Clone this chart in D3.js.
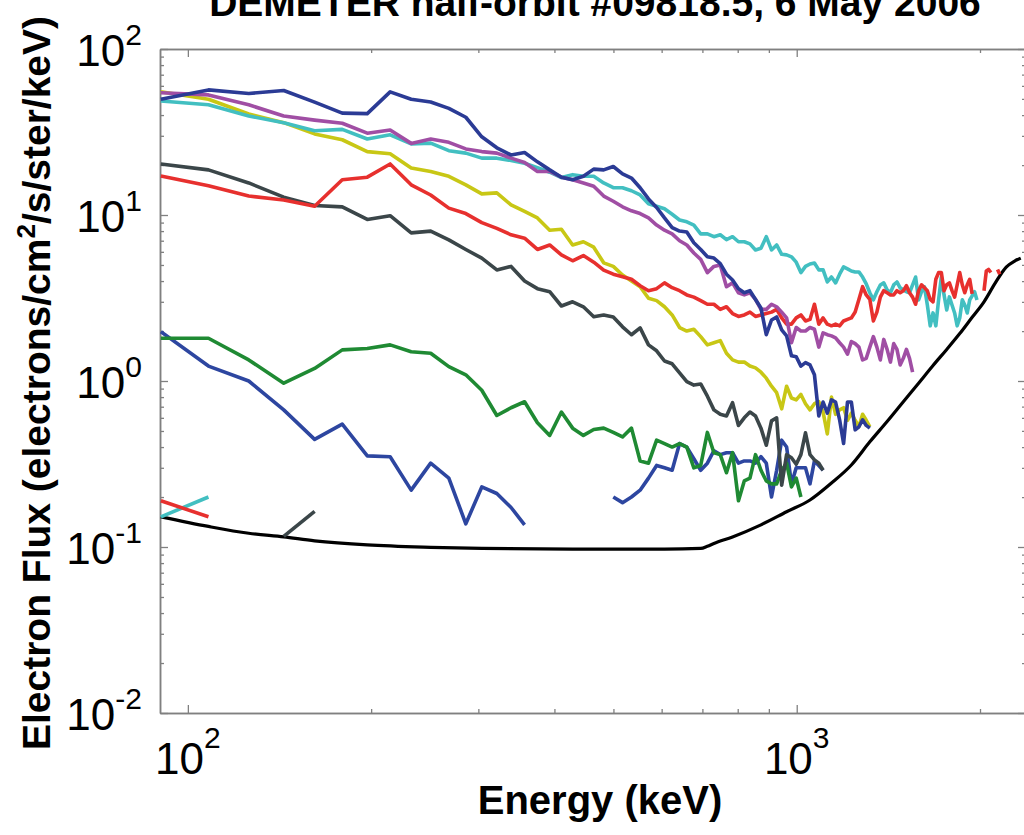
<!DOCTYPE html>
<html>
<head>
<meta charset="utf-8">
<script src="https://cdn.jsdelivr.net/npm/d3@7/dist/d3.min.js"></script>
<style>
  body { margin: 0; background: #fff; }
  svg { display: block; font-family: "Liberation Sans", Arial, Helvetica, sans-serif; }
</style>
</head>
<body>
<div id="chart"></div>
<script>
// IDP energy channels (keV), channel 1 .. 127
var energies = [90.3, 108.1, 125.9, 143.7, 161.5, 179.3, 197.1, 214.9, 232.7, 250.5,
  268.3, 286.1, 303.9, 321.7, 339.5, 357.3, 375.1, 392.9, 410.7, 428.5,
  446.3, 464.1, 481.9, 499.7, 517.5, 535.3, 553.1, 570.9, 588.7, 606.5,
  624.3, 642.1, 659.9, 677.7, 695.5, 713.3, 731.1, 748.9, 766.7, 784.5,
  802.3, 820.1, 837.9, 855.7, 873.5, 891.3, 909.1, 926.9, 944.7, 962.5,
  980.3, 998.1, 1015.9, 1033.7, 1051.5, 1069.3, 1087.1, 1104.9, 1122.7, 1140.5,
  1158.3, 1176.1, 1193.9, 1211.7, 1229.5, 1247.3, 1265.1, 1282.9, 1300.7, 1318.5,
  1336.3, 1354.1, 1371.9, 1389.7, 1407.5, 1425.3, 1443.1, 1460.9, 1478.7, 1496.5,
  1514.3, 1532.1, 1549.9, 1567.7, 1585.5, 1603.3, 1621.1, 1638.9, 1656.7, 1674.5,
  1692.3, 1710.1, 1727.9, 1745.7, 1763.5, 1781.3, 1799.1, 1816.9, 1834.7, 1852.5,
  1870.3, 1888.1, 1905.9, 1923.7, 1941.5, 1959.3, 1977.1, 1994.9, 2012.7, 2030.5,
  2048.3, 2066.1, 2083.9, 2101.7, 2119.5, 2137.3, 2155.1, 2172.9, 2190.7, 2208.5,
  2226.3, 2244.1, 2261.9, 2279.7, 2297.5, 2315.3, 2333.1];

// electron flux per channel (electrons/cm2/s/ster/keV), null = no data
var fluxBlueHigh = [49.8, 56.7, 54.0, 56.2, 47.9, 41.1, 40.8, 55.2, 49.8, 47.9,
  43.9, 38.8, 29.6, 25.4, 23.0, 23.8, 20.9, 18.7, 16.9, 16.3,
  17.1, 18.9, 18.7, 19.6, 17.7, 16.7, 14.6, 12.5, 11.1, 9.6,
  8.4, 8.0, 7.9, 6.8, 6.2, 5.6, 5.5, 5.1, 4.4, 4.06,
  3.6, 3.4, 3.5, 3.1, 2.75, 1.9, 2.33, 2.43, 2.03, 1.87,
  1.42, 1.40, 1.23, 1.29, 1.25, 1.09, 0.616, 0.747, 0.641, 0.77,
  0.747, 0.584, 0.42, 0.747, 0.747, 0.508, 0.53, 0.584, 0.54, 0.52];

var fluxCyan = [48.6, 46.1, 39.5, 36.0, 32.2, 32.8, 28.7, 30.4, 26.8, 27.1,
  24.4, 23.6, 22.0, 22.0, 21.3, 20.5, 19.3, 18.1, 16.8, 17.5,
  17.1, 17.1, 15.6, 14.6, 14.6, 14.0, 13.2, 11.7, 11.3, 10.9,
  10.1, 9.33, 9.1, 8.7, 7.7, 7.7, 7.4, 7.6, 7.1, 7.4,
  6.9, 6.9, 6.7, 6.16, 6.3, 7.4, 6.16, 6.6, 5.8, 5.75,
  5.6, 5.2, 4.5, 4.9, 5.07, 5.14, 4.67, 4.67, 3.95, 4.23,
  3.9, 4.4, 4.87, 4.74, 4.6, 4.54, 4.54, 4.23, 3.85, 3.4,
  3.08, 3.45, 3.79, 3.9, 3.54, 3.4, 3.79, 3.95, 3.64, 3.54,
  3.45, 3.4, 3.79, 4.23, 3.08, 3.45, 3.69, 2.87, 2.15, 2.57,
  2.15, 3.08, 4.23, 3.3, 2.68, 3.21, 2.87, 2.57, 2.15, 2.4,
  3.08, 2.87, 2.57, 3.08, 3.26, 3.45, 3.08];

var fluxPurple = [54.5, 52.9, 46.1, 39.5, 37.3, 35.7, 31.1, 32.5, 27.0, 28.7,
  27.4, 25.0, 24.1, 23.6, 22.0, 20.7, 18.3, 18.3, 16.9, 16.3,
  15.6, 14.9, 13.0, 12.1, 11.2, 10.6, 10.2, 9.6, 8.7, 8.1,
  7.7, 7.0, 6.6, 5.9, 5.4, 4.5, 4.9, 5.0, 3.7, 3.9,
  3.4, 3.3, 3.4, 3.1, 2.7, 2.7, 2.9, 2.8, 2.6, 2.4,
  1.7, 2.1, 2.0, 2.0, 2.1, 2.05, 1.6, 1.95, 1.9, 1.87,
  1.82, 1.7, 1.6, 1.45, 1.73, 1.68, 1.6, 1.34, 1.37, 1.6,
  1.85, 1.6, 1.34, 1.78, 1.55, 1.3, 1.68, 1.55, 1.25, 1.37,
  1.55, 1.37, 1.13];

var fluxYellow = [55.2, 49.8, 40.6, 36.0, 30.8, 28.4, 24.1, 23.4, 19.2, 18.3,
  17.1, 15.2, 13.4, 13.6, 11.5, 10.5, 9.6, 8.1, 8.2, 6.6,
  6.9, 6.4, 5.15, 4.9, 4.35, 4.0, 3.7, 3.15, 3.05, 2.8,
  2.5, 2.1, 2.0, 2.05, 1.85, 1.65, 1.7, 1.75, 1.47, 1.34,
  1.3, 1.3, 1.23, 1.2, 1.13, 1.04, 0.93, 0.85, 0.68, 0.93,
  0.79, 0.77, 0.83, 0.73, 0.67, 0.73, 0.75, 0.65, 0.48, 0.8,
  0.63, 0.67, 0.69, 0.58, 0.64, 0.58, 0.53, 0.63, 0.58, 0.53];

var fluxRed = [17.2, 15.0, 13.0, 12.3, 11.3, 16.3, 16.9, 20.3, 15.2, 13.2,
  11.0, 10.2, 9.0, 8.3, 7.6, 7.25, 6.2, 6.6, 5.75, 5.3,
  5.7, 5.2, 4.65, 4.4, 4.25, 4.1, 3.75, 3.5, 3.6, 3.9,
  3.65, 3.5, 3.3, 3.2, 3.05, 2.9, 2.9, 2.7, 2.8, 2.55,
  2.45, 2.5, 2.6, 2.45, 2.5, 2.55, 2.6, 2.7, 2.4, 2.2,
  2.2, 2.4, 2.5, 2.3, 2.35, 2.9, 2.2, 2.4, 2.2, 2.15,
  2.2, 2.15, 2.3, 2.35, 2.4, 2.6, 3.1, 3.7, 3.3, 3.1,
  2.3, 2.6, 3.2, 3.5, 3.4, 3.3, 3.3, 3.5, 3.4, 3.5,
  3.75, 3.4, 3.2, 2.9, 3.5, 3.8, 3.65, 3.5, 3.1, 3.0,
  4.1, 4.5, 4.5, 3.5, 3.8, 3.9, 3.5, 3.2, 3.8, 4.5,
  3.8, 3.4, 3.8, 4.1, 3.35, null, null, null, null, 3.5,
  4.6, 4.7, 4.5, null, null, 4.7, 4.4];

var fluxGray = [20.3, 18.7, 15.6, 12.8, 11.4, 11.2, 9.4, 9.9, 7.8, 8.0,
  7.08, 6.2, 5.5, 4.67, 4.9, 4.0, 3.6, 3.45, 2.83, 3.0,
  2.8, 2.44, 2.5, 2.43, 2.12, 1.9, 2.09, 1.65, 1.52, 1.32,
  1.27, 1.12, 0.99, 0.945, 0.96, 0.81, 0.67, 0.63, 0.616, 0.74,
  0.54, 0.6, 0.65, 0.616, 0.52, 0.41, 0.575, 0.6, 0.236, 0.36,
  0.345, 0.315, 0.36, 0.487, 0.36, 0.335, 0.32, 0.29];

var fluxGreen = [1.81, 1.81, 1.34, 0.97, 1.19, 1.54, 1.57, 1.65, 1.5, 1.47,
  1.22, 1.09, 0.88, 0.62, 0.69, 0.75, 0.56, 0.47, 0.65, 0.52,
  0.47, 0.51, 0.52, 0.49, 0.46, 0.52, 0.33, 0.32, 0.44, 0.42,
  0.4, 0.42, 0.4, 0.3, 0.31, 0.49, 0.37, 0.36, 0.28, 0.37,
  0.19, 0.25, 0.26, 0.36, 0.29, 0.25, 0.24, 0.24, 0.29, 0.32,
  0.23, 0.26, 0.2];

var fluxBlueLow = [1.98, 1.23, 1.0, 0.67, 0.445, 0.55, 0.354, 0.35, 0.22, 0.32,
  0.26, 0.138, 0.23, 0.21, 0.173, 0.136, null, null, null, null,
  null, null, null, 0.2, 0.185, 0.2, 0.22, 0.26, 0.31, 0.3,
  0.29, 0.42, 0.4, 0.34, 0.29, 0.32, 0.38, 0.36, 0.37, 0.37,
  0.32, 0.33, 0.33, 0.32, 0.35, 0.32, 0.2, 0.29, 0.44, 0.4,
  0.24, 0.3, 0.3, 0.3, 0.24, 0.33, 0.31, 0.29];

// short fragments near the lower edge
var fluxRedLow = [0.19, 0.152];
var fluxCyanLow = [0.152, 0.2];
var fluxGrayLow = [null, null, null, 0.116, 0.164];

// instrument background level
var thresholdE = [90.3, 108.1, 125.9, 143.7, 161.5, 197.1, 250.5, 303.9, 428.5, 606.5,
  695.5, 713.3, 731.1, 784.5, 873.5, 962.5, 1051.5, 1140.5, 1229.5, 1318.5,
  1407.5, 1496.5, 1585.5, 1674.5, 1763.5, 1852.5, 1941.5, 2030.5, 2119.5, 2208.5,
  2279.7, 2333.1];
var thresholdFlux = [0.152, 0.133, 0.121, 0.115, 0.109, 0.103, 0.0996, 0.098, 0.097, 0.097,
  0.098, 0.101, 0.105, 0.115, 0.136, 0.163, 0.192, 0.243, 0.312, 0.43,
  0.57, 0.75, 0.97, 1.24, 1.55, 1.93, 2.42, 3.0, 3.9, 4.86,
  5.28, 5.5];

var xMajor = [100, 1000];
var xMinor = [200, 300, 400, 500, 600, 700, 800, 900, 2000];
var yMajor = [0.01, 0.1, 1, 10, 100];
var yExp = ["-2", "-1", "0", "1", "2"];

var series = [
  {name: "blueLow", values: fluxBlueLow, color: "#2d46a0"},
  {name: "green", values: fluxGreen, color: "#1f8a33"},
  {name: "gray", values: fluxGray, color: "#3b4649"},
  {name: "grayLow", values: fluxGrayLow, color: "#3b4649"},
  {name: "yellow", values: fluxYellow, color: "#c8c715"},
  {name: "cyan", values: fluxCyan, color: "#42bfc1"},
  {name: "cyanLow", values: fluxCyanLow, color: "#42bfc1"},
  {name: "red", values: fluxRed, color: "#e7302e"},
  {name: "redLow", values: fluxRedLow, color: "#e7302e"},
  {name: "purple", values: fluxPurple, color: "#a04ea4"},
  {name: "blueHigh", values: fluxBlueHigh, color: "#2b3b95"}
];

var W = 1024, H = 835,
    plot = {left: 160, right: 1026, top: 49, bottom: 713};

var svg = d3.select("#chart").append("svg")
    .attr("width", W)
    .attr("height", H);

var x = d3.scaleLog().domain([90, 2380]).range([plot.left, plot.right]);
var y = d3.scaleLog().domain([0.01, 100]).range([plot.bottom, plot.top]);

svg.append("clipPath").attr("id", "clip")
  .append("rect")
    .attr("x", plot.left).attr("y", plot.top)
    .attr("width", plot.right - plot.left)
    .attr("height", plot.bottom - plot.top);

// minor y ticks 2..9 in every decade
var yMinor = [];
yMajor.slice(0, -1).forEach(function(d) {
  for (var m = 2; m <= 9; m++) yMinor.push(d * m);
});

var axisColor = "#808080";

function styleAxis(g) {
  g.selectAll("path.domain").attr("stroke", axisColor).attr("stroke-width", 1.5);
  g.selectAll(".tick line").attr("stroke", axisColor).attr("stroke-width", 1.3);
  g.selectAll(".tick text").remove();
}

// bottom / top, major + minor, ticks pointing inward
svg.append("g").attr("transform", "translate(0," + plot.bottom + ")")
  .call(d3.axisBottom(x).tickValues(xMajor).tickSize(-8).tickSizeOuter(0)).call(styleAxis);
svg.append("g").attr("transform", "translate(0," + plot.bottom + ")")
  .call(d3.axisBottom(x).tickValues(xMinor).tickSize(-4).tickSizeOuter(0)).call(styleAxis);
svg.append("g").attr("transform", "translate(0," + plot.top + ")")
  .call(d3.axisTop(x).tickValues(xMajor).tickSize(-8).tickSizeOuter(0)).call(styleAxis);
svg.append("g").attr("transform", "translate(0," + plot.top + ")")
  .call(d3.axisTop(x).tickValues(xMinor).tickSize(-4).tickSizeOuter(0)).call(styleAxis);

// left / right
svg.append("g").attr("transform", "translate(" + plot.left + ",0)")
  .call(d3.axisLeft(y).tickValues(yMajor).tickSize(-8).tickSizeOuter(0)).call(styleAxis);
svg.append("g").attr("transform", "translate(" + plot.left + ",0)")
  .call(d3.axisLeft(y).tickValues(yMinor).tickSize(-4).tickSizeOuter(0)).call(styleAxis);
svg.append("g").attr("transform", "translate(" + plot.right + ",0)")
  .call(d3.axisRight(y).tickValues(yMajor).tickSize(-8).tickSizeOuter(0)).call(styleAxis);
svg.append("g").attr("transform", "translate(" + plot.right + ",0)")
  .call(d3.axisRight(y).tickValues(yMinor).tickSize(-4).tickSizeOuter(0)).call(styleAxis);

// tick labels as 10^n
svg.selectAll(".xlab").data(xMajor).enter().append("text")
    .attr("class", "xlab")
    .attr("x", function(d) { return x(d); })
    .attr("y", plot.bottom + 61)
    .attr("text-anchor", "middle")
    .style("font-size", "44px")
    .each(function(d) {
      var t = d3.select(this);
      t.append("tspan").text("10");
      t.append("tspan").attr("dy", -26).style("font-size", "30px").text(Math.round(Math.log10(d)));
    });

svg.selectAll(".ylab").data(yMajor).enter().append("text")
    .attr("class", "ylab")
    .attr("x", 142)
    .attr("y", function(d) { return y(d) + 17; })
    .attr("text-anchor", "end")
    .style("font-size", "44px")
    .each(function(d, i) {
      var t = d3.select(this);
      t.append("tspan").text("10");
      t.append("tspan").attr("dy", -21).style("font-size", "30px").text(yExp[i]);
    });

// data lines
var line = d3.line()
    .defined(function(d) { return d[1] != null; })
    .x(function(d) { return x(d[0]); })
    .y(function(d) { return y(d[1]); });

var lines = svg.append("g").attr("clip-path", "url(#clip)");

lines.append("path")
    .datum(thresholdE.map(function(e, i) { return [e, thresholdFlux[i]]; }))
    .attr("fill", "none")
    .attr("stroke", "#000")
    .attr("stroke-width", 3.2)
    .attr("d", line.curve(d3.curveMonotoneX));

line.curve(d3.curveLinear);

lines.selectAll(".series").data(series).enter().append("path")
    .attr("class", "series")
    .attr("fill", "none")
    .attr("stroke", function(d) { return d.color; })
    .attr("stroke-width", 3.6)
    .attr("stroke-linejoin", "round")
    .attr("d", function(d) {
      return line(d.values.map(function(v, i) { return [energies[i], v]; }));
    });

// titles
svg.append("text")
    .attr("x", 595).attr("y", 16)
    .attr("text-anchor", "middle")
    .style("font-size", "39px").style("font-weight", "bold")
    .text("DEMETER half-orbit #09818.5, 6 May 2006");

svg.append("text")
    .attr("x", 600).attr("y", 814)
    .attr("text-anchor", "middle")
    .style("font-size", "40px").style("font-weight", "bold")
    .text("Energy (keV)");

var yt = svg.append("text")
    .attr("transform", "translate(50," + 383 + ") rotate(-90)")
    .attr("text-anchor", "middle")
    .style("font-size", "39px").style("font-weight", "bold");
yt.append("tspan").text("Electron Flux (electrons/cm");
yt.append("tspan").attr("dy", -15).style("font-size", "26px").text("2");
yt.append("tspan").attr("dy", 15).text("/s/ster/keV)");
</script>
</body>
</html>
